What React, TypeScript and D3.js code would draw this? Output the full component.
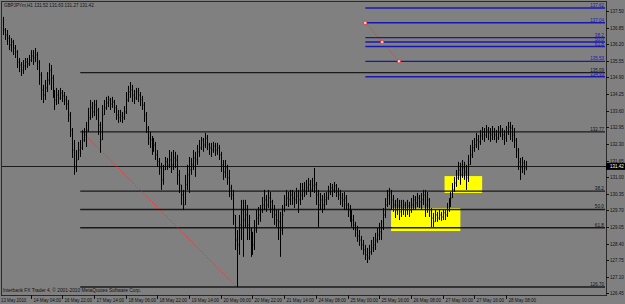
import React from "react";
import * as d3 from "d3";

const symbolTitle = "GBPJPYm,H1";
const lastQuote = [131.52, 131.63, 131.27, 131.42];
const copyright = "Interbank FX Trader 4, © 2001-2010 MetaQuotes Software Corp.";

const closes = [
  136.76,136.56,136.44,136.17,136.29,136.05,135.90,135.50,135.39,135.19,
  135.35,135.50,135.43,135.58,135.74,135.66,135.78,135.50,135.00,134.41,
  134.21,134.49,134.80,135.19,134.88,134.33,134.02,134.21,134.10,134.29,
  134.18,134.02,133.86,133.43,132.84,132.06,131.36,131.67,132.06,132.14,
  132.45,132.65,132.84,133.32,133.71,133.55,133.82,133.63,133.04,132.45,
  133.43,133.71,133.90,134.02,133.86,133.94,133.71,133.43,133.32,133.39,
  133.32,133.55,134.02,134.33,134.41,134.21,134.10,134.33,134.21,134.02,
  133.82,133.43,132.92,132.53,132.45,132.14,132.26,131.87,131.60,131.36,
  130.89,131.28,131.60,131.48,131.67,131.48,131.75,131.67,131.09,130.70,
  130.30,129.91,130.70,131.09,131.28,131.48,131.75,131.67,131.99,132.14,
  132.45,132.26,132.53,132.26,132.14,132.06,132.22,132.06,132.14,131.87,
  131.48,131.20,131.36,130.97,130.58,130.30,129.52,128.54,128.35,129.13,
  129.71,129.32,129.52,129.13,128.93,128.54,128.35,128.93,129.40,129.52,
  129.71,129.91,130.11,129.91,130.18,130.03,129.71,129.52,129.32,129.25,
  128.93,129.52,129.91,130.18,130.11,130.30,130.18,130.11,130.26,130.11,
  130.30,130.50,130.42,130.58,130.70,130.50,130.66,130.70,130.30,129.91,
  130.11,129.91,130.11,130.18,130.42,130.58,130.50,130.66,130.42,130.30,
  130.18,130.11,130.18,129.91,129.71,129.52,129.32,129.13,128.93,128.70,
  128.54,128.35,128.15,127.96,127.84,128.07,128.23,128.35,128.54,128.74,
  128.86,129.01,129.52,129.91,130.30,130.38,130.11,129.91,129.71,129.87,
  129.64,129.79,129.91,129.71,129.87,129.71,129.91,130.11,129.99,130.18,
  130.03,130.11,130.30,129.91,130.11,129.71,129.40,129.25,129.52,129.40,
  129.52,129.44,129.60,129.52,129.71,129.91,130.18,130.50,130.77,130.97,
  131.28,131.09,131.36,131.20,130.97,131.48,131.87,132.14,132.26,132.45,
  132.38,132.61,132.77,132.65,132.84,132.73,132.65,132.77,132.65,132.53,
  132.73,132.84,132.65,132.53,132.77,132.96,132.92,132.65,132.45,132.06,
  131.60,131.36,131.56,131.36,131.42,
];

const highs = [
  137.27,136.83,136.76,136.56,136.44,136.37,136.17,135.97,135.66,135.50,
  135.58,135.66,135.66,135.78,135.97,135.97,136.05,135.90,135.58,135.11,
  134.61,134.80,135.11,135.46,135.39,135.00,134.41,134.49,134.41,134.49,
  134.41,134.33,134.18,134.02,133.55,132.92,132.45,132.06,132.38,132.45,
  132.84,132.92,133.16,133.71,134.02,133.94,134.02,134.02,133.71,133.16,
  133.82,134.02,134.14,134.18,134.10,134.14,134.02,133.82,133.63,133.63,
  133.55,133.78,134.33,134.57,134.72,134.61,134.41,134.49,134.49,134.33,
  134.18,133.94,133.55,133.00,132.77,132.61,132.53,132.38,132.06,131.75,
  131.56,131.48,131.79,131.75,132.06,131.99,132.06,131.99,131.87,131.28,
  130.70,130.50,131.09,131.48,131.79,131.75,132.06,131.99,132.26,132.45,
  132.57,132.53,132.73,132.65,132.34,132.34,132.38,132.34,132.34,132.26,
  131.99,131.67,131.67,131.48,131.28,130.70,130.50,129.52,128.93,129.52,
  130.11,130.11,130.11,129.91,129.52,129.01,128.86,129.32,129.71,129.83,
  129.91,130.22,130.50,130.30,130.50,130.42,130.11,129.91,129.71,129.71,
  129.64,129.91,130.30,130.50,130.42,130.50,130.50,130.42,130.58,130.50,
  130.77,130.77,130.81,130.89,130.97,130.89,130.97,131.36,130.81,130.50,
  130.38,130.30,130.38,130.42,130.66,130.77,130.73,130.81,130.73,130.58,
  130.50,130.38,130.42,130.30,129.99,129.91,129.71,129.52,129.25,129.09,
  128.93,128.70,128.54,128.35,128.23,128.35,128.54,128.66,128.82,129.01,
  129.21,129.32,129.79,130.18,130.50,130.58,130.50,130.30,130.11,130.18,
  130.11,130.11,130.11,130.03,130.11,130.03,130.18,130.30,130.26,130.38,
  130.30,130.38,130.50,130.50,130.42,130.18,129.79,129.60,129.71,129.64,
  129.71,129.64,129.71,129.71,129.99,130.18,130.42,130.77,131.01,131.28,
  131.60,131.56,131.67,131.60,131.48,131.87,132.26,132.45,132.53,132.73,
  132.65,132.84,132.96,132.92,133.04,132.96,132.92,133.00,132.92,132.84,
  133.00,133.04,132.92,132.84,133.00,133.16,133.16,133.04,132.92,132.53,
  132.14,131.75,131.79,131.67,131.63,
];

const lows = [
  136.56,136.37,136.17,135.97,135.90,135.78,135.66,135.27,135.11,134.96,
  135.04,135.19,135.27,135.35,135.50,135.39,135.50,135.19,134.61,134.02,
  133.90,134.02,134.33,134.61,134.41,134.10,133.63,133.82,133.86,134.02,
  133.94,133.82,133.63,133.16,132.57,131.75,131.09,131.20,131.67,131.79,
  132.06,132.38,132.18,132.77,133.24,133.32,133.39,133.24,132.65,131.95,
  132.45,133.43,133.63,133.74,133.63,133.71,133.51,133.24,133.12,133.16,
  133.12,133.24,133.47,133.94,134.10,133.94,133.86,134.02,133.94,133.78,
  133.63,133.16,132.73,132.26,132.14,131.87,131.99,131.67,131.40,131.09,
  130.50,130.70,131.28,131.28,131.36,131.16,131.28,131.36,130.70,130.38,
  129.91,129.71,129.91,130.50,130.38,131.09,131.28,131.01,131.48,131.79,
  132.06,131.99,132.14,132.06,131.87,131.79,131.95,131.83,131.87,131.67,
  131.20,130.89,130.97,130.70,130.22,130.11,129.13,128.15,126.70,127.96,
  128.54,127.88,129.01,128.54,128.54,127.88,127.96,128.15,128.82,129.13,
  129.25,129.60,129.71,129.64,129.79,129.60,129.40,129.13,129.05,128.54,
  127.88,128.74,129.64,129.87,129.83,129.91,129.91,129.79,129.95,129.60,
  129.91,130.11,130.22,130.30,130.42,130.22,130.42,130.38,129.91,129.05,
  129.71,129.60,129.71,129.91,130.11,130.30,130.22,130.38,130.22,130.11,
  129.91,129.83,129.71,129.71,129.44,129.25,129.05,128.93,128.66,128.47,
  128.31,128.15,127.96,127.76,127.64,127.76,127.96,128.07,128.15,128.43,
  128.54,128.54,128.93,129.40,129.83,129.91,129.71,129.64,129.40,129.52,
  129.32,129.44,129.52,129.44,129.52,129.44,129.60,129.71,129.71,129.83,
  129.79,129.71,129.91,129.44,129.60,129.44,129.05,129.05,129.25,129.25,
  129.32,129.29,129.32,129.32,129.44,129.64,129.83,130.18,130.42,130.62,
  130.89,130.70,130.97,130.89,130.50,130.81,131.48,131.75,131.99,132.14,
  132.06,132.26,132.45,132.38,132.53,132.45,132.38,132.45,132.45,132.34,
  132.45,132.57,132.45,132.26,132.38,132.65,132.45,132.38,132.14,131.75,
  131.28,130.89,131.16,131.09,131.27,
];

const priceTicks = [
  137.5, 136.85, 136.2, 135.55, 134.9, 134.25, 133.6, 132.95, 132.3,
  131.65, 131.0, 130.35, 129.7, 129.05, 128.4, 127.75, 127.1, 126.45,
];

const timeTickIdx = [0, 14, 30, 46, 62, 78, 94, 110, 126, 142, 158, 174, 190, 206, 222, 238, 254];
const timeTickLabels = [
  "13 May 2010", "14 May 04:00", "16 May 22:00", "17 May 14:00", "18 May 06:00",
  "18 May 22:00", "19 May 14:00", "20 May 06:00", "20 May 22:00", "21 May 14:00",
  "24 May 08:00", "25 May 00:00", "25 May 16:00", "26 May 08:00", "27 May 00:00",
  "27 May 16:00", "28 May 08:00",
];

// black Fibonacci retracement (anchored 132.77 -> 126.70) plus 135.09 level
const blackLevels = [135.09, 132.77, 130.45, 129.735, 129.02, 126.7];
const blackLabels = ["135.09", "132.77", "38.2", "50.0", "61.8", "126.70"];
const blackStartIdx = 39;
const blackAnchor = { from: [40, 132.77], to: [118, 126.7] };

// blue Fibonacci retracement (137.04 -> 135.53) plus extra levels
const blueLevels = [137.62, 137.04, 136.46, 136.285, 136.11, 135.53, 134.93];
const blueLabels = ["137.62", "137.04", "38.2", "50.0", "61.8", "135.53", "134.93"];
const blueStartIdx = 183;
const blueAnchor = { from: [183, 137.04], to: [200, 135.53] };

// yellow highlight boxes
const boxStart = [196, 223];
const boxEnd = [231, 242];
const boxTop = [129.79, 131.04];
const boxBottom = [128.89, 130.38];

const W = 625;
const H = 304;
const plotLeft = 1;
const plotTop = 1;
const plotRight = 606;
const plotBottom = 295;
const FONT = "'Liberation Sans', Arial, sans-serif";
const CHAR_W = 2.3;

function T(props: {
  x: number;
  y: number;
  children: string;
  fill?: string;
  anchor?: "start" | "end";
  cw?: number;
}) {
  const { x, y, children, fill = "#111", anchor = "start", cw = CHAR_W } = props;
  return (
    <text
      x={x}
      y={y}
      fontSize={6}
      fontFamily={FONT}
      fill={fill}
      textAnchor={anchor}
      textLength={children.length * cw}
      lengthAdjust="spacingAndGlyphs"
    >
      {children}
    </text>
  );
}

export default function App() {
  const n = closes.length;
  const x = d3.scaleLinear().domain([0, n - 1]).range([3, 3 + (n - 1) * 1.98]);
  const y = d3.scaleLinear().domain([126.45, 137.5]).range([293.4, 11]);
  const px = (i: number) => Math.round(x(i)) + 0.5;
  const last = lastQuote[3];
  const lineEnd = plotRight - 1;

  const bars = closes.map((c, i) => {
    const xi = px(i);
    return (
      <g key={i}>
        <line x1={xi} x2={xi} y1={y(highs[i])} y2={y(lows[i])} stroke="#000" strokeWidth={1} />
        <line x1={xi} x2={xi + 1} y1={y(c)} y2={y(c)} stroke="#1a1a1a" strokeWidth={1} />
      </g>
    );
  });

  const midBlue = [
    (blueAnchor.from[0] + blueAnchor.to[0]) / 2,
    (blueAnchor.from[1] + blueAnchor.to[1]) / 2,
  ];

  return (
    <div style={{ position: "absolute", left: 0, top: 0 }}>
      <svg width={W} height={H} style={{ display: "block" }}>
        <rect x={0} y={0} width={W} height={H} fill="#808080" />
        {boxStart.map((s, k) => (
          <rect
            key={k}
            x={x(s)}
            y={y(boxTop[k])}
            width={x(boxEnd[k]) - x(s)}
            height={y(boxBottom[k]) - y(boxTop[k])}
            fill="#ffff00"
          />
        ))}
        <line x1={plotLeft} x2={plotRight} y1={Math.round(y(last)) + 0.5} y2={Math.round(y(last)) + 0.5} stroke="#1a1a1a" strokeWidth={1} />
        {blackLevels.map((p, k) => (
          <g key={k}>
            <line x1={x(blackStartIdx)} x2={lineEnd} y1={y(p)} y2={y(p)} stroke="#1a1a1a" strokeWidth={1.4} />
            <T x={lineEnd - 1} y={y(p) - 1} anchor="end">{blackLabels[k]}</T>
          </g>
        ))}
        {blueLevels.map((p, k) => (
          <g key={k}>
            <line x1={x(blueStartIdx)} x2={lineEnd} y1={y(p)} y2={y(p)} stroke="#1818b0" strokeWidth={1.4} />
            <T x={lineEnd - 1} y={y(p) - 1} anchor="end" fill="#1818b0">{blueLabels[k]}</T>
          </g>
        ))}
        <line
          x1={x(blackAnchor.from[0])}
          y1={y(blackAnchor.from[1])}
          x2={x(blackAnchor.to[0])}
          y2={y(blackAnchor.to[1])}
          stroke="#ff2020"
          strokeWidth={1}
          strokeDasharray="1,2"
        />
        <line
          x1={x(blueAnchor.from[0])}
          y1={y(blueAnchor.from[1])}
          x2={x(blueAnchor.to[0])}
          y2={y(blueAnchor.to[1])}
          stroke="#ff2020"
          strokeWidth={1}
          strokeDasharray="1,2"
        />
        {[blueAnchor.from, midBlue, blueAnchor.to].map((pt, k) => (
          <rect key={k} x={x(pt[0]) - 1.5} y={y(pt[1]) - 1.5} width={3} height={3} fill="#f4d0d0" stroke="#ff2020" strokeWidth={0.6} />
        ))}
        {bars}
        <rect x={plotLeft + 0.5} y={plotTop + 0.5} width={plotRight - plotLeft} height={plotBottom - plotTop} fill="none" stroke="#2a2a2a" strokeWidth={1} />
        {priceTicks.map((p, k) => (
          <g key={k}>
            <line x1={plotRight} x2={plotRight + 3} y1={Math.round(y(p)) + 0.5} y2={Math.round(y(p)) + 0.5} stroke="#111" />
            <T x={plotRight + 4} y={y(p) + 2}>{p.toFixed(2)}</T>
          </g>
        ))}
        <rect x={plotRight} y={y(last) - 3.5} width={W - plotRight} height={7} fill="#000" />
        <T x={plotRight + 4} y={y(last) + 2} fill="#fff">{last.toFixed(2)}</T>
        {timeTickIdx.map((idx, k) => (
          <g key={k}>
            {k > 0 && (
              <line x1={px(idx)} x2={px(idx)} y1={plotBottom} y2={plotBottom + 4} stroke="#111" />
            )}
            <T x={k === 0 ? 1 : px(idx) + 2} y={302}>{timeTickLabels[k]}</T>
          </g>
        ))}
        <T x={4} y={7}>{symbolTitle + "  " + lastQuote.map((v) => v.toFixed(2)).join(" ")}</T>
        <T x={3} y={292}>{copyright}</T>
      </svg>
    </div>
  );
}
